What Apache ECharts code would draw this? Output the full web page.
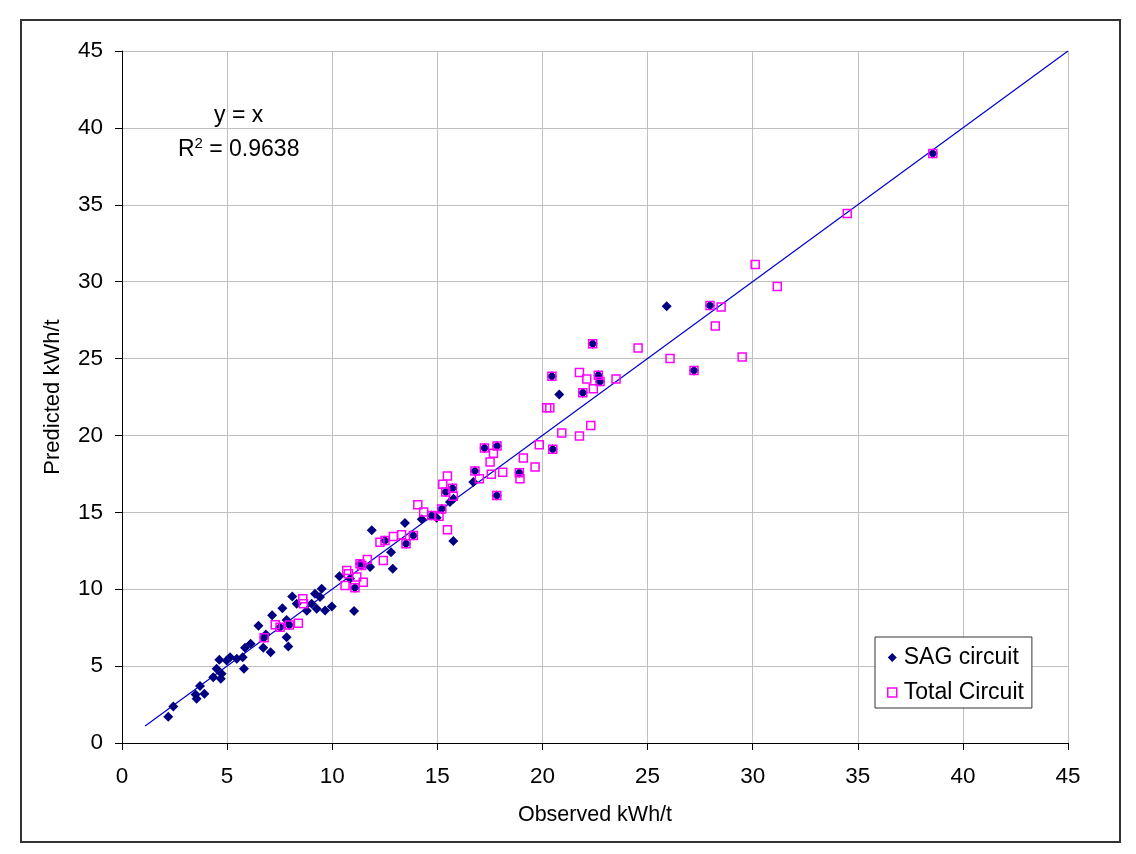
<!DOCTYPE html>
<html>
<head>
<meta charset="utf-8">
<script src="https://cdn.jsdelivr.net/npm/echarts@6/dist/echarts.min.js"></script>
<style>
html,body{margin:0;padding:0;background:#fff;}
#frame{position:absolute;left:20px;top:19px;width:1101px;height:824px;border:2px solid #333;box-sizing:border-box;}
#c{position:absolute;left:0;top:0;width:1136px;height:854px;}
</style>
</head>
<body>
<div id="frame"></div>
<div id="c"></div>
<script>
const xTicks = [0,5,10,15,20,25,30,35,40,45];
const yTicks = [0,5,10,15,20,25,30,35,40,45];
const fitLine = [[1.1,1.1],[45,45]];
const sagCircuit = [
[2.2,1.7],[2.44,2.37],[3.5,3.15],[3.55,2.88],[3.92,3.2],[3.71,3.7],[4.34,4.28],[4.7,4.17],[4.5,4.83],
[4.63,5.41],[4.74,4.5],[4.98,5.37],[5.14,5.58],[5.46,5.48],[5.8,4.83],[5.74,5.58],[5.85,6.19],[6.12,6.45],
[6.72,6.19],[7.07,5.9],[6.49,7.62],[6.84,7.06],[6.76,6.84],[7.14,8.3],[7.63,8.77],[7.52,7.53],[7.83,8.0],
[7.83,6.88],[7.91,6.28],[7.96,7.68],[8.1,9.53],[8.79,8.6],[8.31,9.06],[9.02,9.06],[9.26,8.73],[9.66,8.62],
[9.98,8.88],[9.42,9.49],[9.18,9.7],[9.5,10.03],[11.04,8.58],[10.34,10.85],[10.85,10.68],[11.08,10.1],
[11.4,11.55],[11.32,11.66],[11.8,11.44],[11.88,13.83],[12.51,13.17],[13.51,12.96],[13.86,13.5],[12.8,12.41],
[12.88,11.33],[13.46,14.3],[14.26,14.55],[14.73,14.8],[14.97,14.65],[15.21,15.21],[15.6,15.67],[15.77,15.89],
[15.4,16.32],[15.72,16.57],[15.76,13.13],[16.71,16.97],[16.79,17.68],[17.24,19.18],[17.84,19.32],[17.83,16.1],
[18.9,17.58],[20.49,19.1],[20.8,22.67],[21.92,22.78],[22.74,23.5],[22.66,23.91],[20.45,23.85],[22.39,25.97],
[25.91,28.4],[27.97,28.45],[27.21,24.23],[38.57,38.33]
];
const totalCircuit = [
[6.76,6.84],[7.29,7.69],[7.52,7.53],[7.96,7.68],[8.39,7.79],[8.6,9.38],[8.63,9.06],[10.61,10.25],[10.69,11.22],
[10.77,11.0],[11.08,10.1],[11.17,10.79],[11.48,10.46],[11.4,11.55],[11.32,11.66],[11.67,11.94],[12.27,13.06],
[12.51,13.17],[12.43,11.87],[12.91,13.43],[13.3,13.54],[13.51,12.96],[13.86,13.5],[14.07,15.5],[14.35,15.02],
[14.73,14.8],[15.08,14.74],[15.21,15.21],[15.26,16.82],[15.48,17.36],[15.48,13.87],[15.4,16.32],[15.72,16.57],
[15.76,16.04],[16.79,17.68],[17.0,17.19],[17.51,18.27],[17.57,17.47],[17.67,18.85],[17.24,19.18],[17.84,19.32],
[17.83,16.1],[18.11,17.6],[18.9,17.58],[18.93,17.19],[19.09,18.53],[19.65,17.95],[19.85,19.4],[20.49,19.1],
[20.2,21.8],[20.35,21.8],[20.45,23.85],[20.92,20.16],[21.76,19.96],[22.3,20.64],[21.92,22.78],[22.42,23.04],
[21.76,24.09],[22.11,23.67],[22.66,23.91],[22.74,23.5],[22.39,25.97],[23.5,23.67],[24.55,25.69],[26.07,25.0],
[27.21,24.23],[27.97,28.45],[28.5,28.36],[28.22,27.11],[29.5,25.1],[30.12,31.11],[31.17,29.68],[34.5,34.43],
[38.57,38.33]
];
const seriesNames = ['SAG circuit','Total Circuit'];
const eqText = 'y = x';
const r2Value = '0.9638';

const FONT = 'Liberation Sans, Arial, sans-serif';
const chart = echarts.init(document.getElementById('c'), null, {renderer:'canvas'});
chart.setOption({
  animation:false,
  backgroundColor:'transparent',
  textStyle:{fontFamily:FONT},
  grid:{left:122,right:68,top:51,bottom:111,containLabel:false},
  xAxis:{
    type:'value',min:xTicks[0],max:xTicks[xTicks.length-1],interval:5,
    name:'Observed kWh/t',nameLocation:'middle',nameGap:61,
    nameTextStyle:{fontSize:21.5,color:'#000',fontFamily:FONT},
    axisLine:{show:true,onZero:false,lineStyle:{color:'#000',width:1}},
    axisTick:{show:true,length:7,lineStyle:{color:'#000'}},
    axisLabel:{color:'#000',fontSize:22.5,margin:22,fontFamily:FONT},
    splitLine:{show:true,lineStyle:{color:'#c0c0c0',width:1}}
  },
  yAxis:{
    type:'value',min:yTicks[0],max:yTicks[yTicks.length-1],interval:5,
    name:'Predicted kWh/t',nameLocation:'middle',nameGap:58,
    nameTextStyle:{fontSize:22,color:'#000',fontFamily:FONT},
    axisLine:{show:true,onZero:false,lineStyle:{color:'#000',width:1}},
    axisTick:{show:true,length:7,lineStyle:{color:'#000'}},
    axisLabel:{color:'#000',fontSize:22.5,margin:19,fontFamily:FONT},
    splitLine:{show:true,lineStyle:{color:'#c0c0c0',width:1}}
  },
  legend:{
    orient:'vertical',left:875,top:637,
    backgroundColor:'#fff',borderColor:'#333',borderWidth:1,
    padding:[9,8,4,12],itemGap:12,itemWidth:9,itemHeight:9,
    textStyle:{fontSize:23,color:'#000',fontFamily:FONT,padding:[0,0,0,2]},
    data:[
      {name:seriesNames[0],icon:'diamond',itemStyle:{color:'#000080',borderWidth:0}},
      {name:seriesNames[1],icon:'rect',itemStyle:{color:'#fff',borderColor:'#FF00FF',borderWidth:1.5}}
    ]
  },
  series:[
    {type:'line',name:'fit',data:fitLine,showSymbol:false,symbol:'none',
     lineStyle:{color:'#0000CC',width:1.2},silent:true,z:1},
    {type:'scatter',name:seriesNames[0],data:sagCircuit,symbol:'diamond',symbolSize:10,
     itemStyle:{color:'#000080',opacity:1},z:2},
    {type:'scatter',name:seriesNames[1],data:totalCircuit,symbol:'rect',symbolSize:8,
     itemStyle:{color:'rgba(255,255,255,0)',borderColor:'#FF00FF',borderWidth:1.5,opacity:1},z:3}
  ]
});
// annotation anchored in data space
const p1 = chart.convertToPixel({gridIndex:0},[5.55,40.8]);
const p2 = chart.convertToPixel({gridIndex:0},[5.55,38.6]);
chart.setOption({graphic:[
  {type:'text',x:p1[0],y:p1[1],style:{text:eqText,font:'23px '+FONT,fill:'#000',align:'center',verticalAlign:'middle'}},
  {type:'text',x:p2[0],y:p2[1],style:{text:'{a|R}{s|2}{a| = '+r2Value+'}',align:'center',verticalAlign:'middle',
    rich:{a:{fontSize:23,fontFamily:FONT,color:'#000'},s:{fontSize:15,fontFamily:FONT,color:'#000',verticalAlign:'top',padding:[0,0,12,0]}}}}
]});
</script>
</body>
</html>
